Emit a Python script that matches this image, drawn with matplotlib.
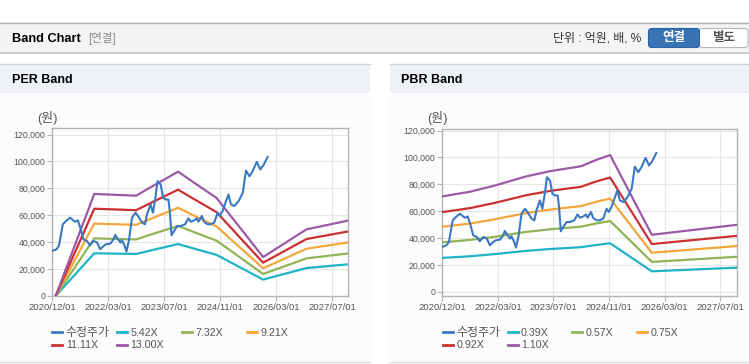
import matplotlib
matplotlib.use("Agg")
import matplotlib.pyplot as plt
from matplotlib.patches import Rectangle, FancyBboxPatch
from matplotlib.lines import Line2D
from matplotlib.ticker import FuncFormatter

plt.rcParams['font.family'] = ['Liberation Sans', 'Noto Sans CJK KR']

W, H = 749, 364

# x positions are in months along the chart axis (one tick every 16)
tick_pos = [0, 16, 32, 48, 64, 80]
tick_labels = ['2020/12/01', '2022/03/01', '2023/07/01', '2024/11/01', '2026/03/01', '2027/07/01']

# 수정주가 (adjusted price)
price_month = [0, 1.2, 1.9, 3.0, 4.1, 5.1, 6.0, 6.5, 7.3, 8.0,
               8.9, 9.9, 10.8, 11.8, 12.8, 13.7, 14.7, 15.4, 16.6, 17.5,
               18.0, 18.8, 19.5, 19.9, 20.7, 21.2, 21.9, 22.8, 23.8, 24.5,
               25.7, 26.5, 27.1, 28.1, 28.8, 29.5, 30.1, 31.0, 31.7, 32.4,
               33.2, 33.6, 34.1, 34.8, 35.8, 36.7, 38.0, 38.9, 39.6, 40.6,
               41.3, 41.8, 42.8, 43.4, 44.4, 45.3, 46.3, 47.3, 47.9, 48.7,
               49.7, 50.4, 51.1, 52.1, 53.3, 54.5, 55.4, 56.4, 57.3, 58.5,
               59.5, 60.5, 61.6]
price = [33400, 34600, 37100, 53200, 56100, 58100, 56100, 55100, 56100, 50700,
         42000, 40800, 37600, 40800, 39600, 34600, 37100, 38300, 38800, 42000,
         45300, 42000, 39600, 41300, 37100, 32900, 40800, 58100, 61800, 59400,
         54400, 53200, 60600, 68000, 61800, 73000, 85300, 82800, 73000, 71700,
         71700, 63100, 45000, 48200, 51900, 51900, 53200, 57600, 55100, 56100,
         57600, 55100, 59400, 55100, 53200, 53200, 54400, 61800, 59400, 63100,
         70500, 75400, 68000, 66800, 70500, 76700, 93200, 89000, 92700, 99700,
         94000, 97700, 103400]

# PER band lines
per_month = [1, 12, 24, 28, 36, 40, 47, 60.3, 72.7, 84.7]
per_542 = [0, 31600, 31100, 33600, 38500, 35500, 30400, 12000, 20600, 23400]
per_732 = [0, 42700, 41900, 45400, 52000, 47900, 41000, 16200, 27800, 31500]
per_921 = [0, 53700, 52800, 57100, 65500, 60300, 51600, 20400, 35000, 39700]
per_1111 = [0, 64800, 63700, 68900, 79000, 72800, 62200, 24600, 42200, 47900]
per_1300 = [0, 75800, 74500, 80600, 92400, 85200, 72800, 28800, 49400, 56000]
per_labels = ['5.42X', '7.32X', '9.21X', '11.11X', '13.00X']

# PBR band lines
pbr_month = [0, 8, 15, 24, 31, 40, 44, 48.3, 60.3, 84.7]
pbr_039 = [25200, 26400, 28000, 30400, 31800, 33200, 34700, 36100, 15200, 17900]
pbr_057 = [36800, 38600, 40900, 44500, 46500, 48500, 50700, 52700, 22200, 26000]
pbr_075 = [48400, 50800, 53900, 58500, 61200, 63800, 66800, 69400, 29000, 34000]
pbr_092 = [59300, 62300, 66100, 71800, 75100, 78200, 81900, 85100, 35500, 41600]
pbr_110 = [71000, 74500, 79000, 85800, 89800, 93500, 97900, 101800, 42400, 49800]
pbr_labels = ['0.39X', '0.57X', '0.75X', '0.92X', '1.10X']

price_color = '#3b78c4'
band_colors = ['#1fb3c6', '#8fb556', '#f4a83c', '#cc3131', '#9c5aa6']


def rect(fig, x0, y0, x1, y1, color, **kw):
    # pixel box (y from top) in figure inches, kept behind the axes
    fig.patches.append(Rectangle((x0 / 100, (H - y1) / 100), (x1 - x0) / 100, (y1 - y0) / 100,
                                 transform=fig.dpi_scale_trans, facecolor=color,
                                 edgecolor='none', zorder=-2, **kw))


def hline(fig, x0, x1, y, color, lw=1.0):
    fig.add_artist(Line2D([x0 / W, x1 / W], [1 - y / H, 1 - y / H], color=color, lw=lw,
                          transform=fig.transFigure, zorder=-1))


def text(fig, x, y, s, **kw):
    fig.text(x / W, 1 - y / H, s, va='center', **kw)


def draw_panel(fig, rect_px, month, bands, labels, xlim, ylim, legend_x0):
    l, t, r, b = rect_px
    ax = fig.add_axes([l / W, 1 - b / H, (r - l) / W, (b - t) / H])
    ax.set_facecolor('white')
    ax.plot(price_month, price, color=price_color, lw=1.5, zorder=4)
    for vals, c in zip(bands, band_colors):
        ax.plot(month, vals, color=c, lw=1.6, zorder=3)
    ax.set_xlim(*xlim)
    ax.set_ylim(*ylim)
    ax.set_xticks(tick_pos)
    ax.set_xticklabels(tick_labels)
    ax.set_yticks(range(0, 120001, 20000))
    ax.yaxis.set_major_formatter(FuncFormatter(lambda v, p: f'{int(v):,}'))
    ax.grid(True, color='#e6e6e6', lw=0.8, zorder=0)
    ax.set_axisbelow(True)
    for sp in ax.spines.values():
        sp.set_color('#b4b4b4')
        sp.set_linewidth(1.0)
    ax.tick_params(axis='both', colors='#b4b4b4', length=3.5, width=0.8, pad=1.5)
    ax.tick_params(axis='x', labelsize=6.8, labelcolor='#555555')
    ax.tick_params(axis='y', labelsize=6.3, labelcolor='#555555')

    # legend drawn by hand on a fixed grid
    names = ['수정주가'] + labels
    colors = [price_color] + band_colors
    for i, (n, c) in enumerate(zip(names, colors)):
        row, col = divmod(i, 4)
        x = legend_x0 + col * 64.8
        y = 332.3 + row * 12.3
        fig.add_artist(Line2D([x / W, (x + 10) / W], [1 - y / H, 1 - y / H], color=c, lw=2,
                              transform=fig.transFigure))
        size = 8.6 if i == 0 else 7.7
        text(fig, x + 13.5, y + 0.3, n, fontsize=size, color='#555555', ha='left')
    return ax


fig = plt.figure(figsize=(W / 100, H / 100), dpi=100)
fig.patch.set_facecolor('white')

# top header bar
rect(fig, 0, 22, W, 53, '#f4f4f4')
hline(fig, 0, W, 22.5, '#b4b4b4', 1.0)
hline(fig, 0, W, 53, '#c4c4c4', 1.2)
text(fig, 11.5, 38.5, 'Band Chart', fontsize=9.2, fontweight='bold', color='black')
text(fig, 88, 38.5, '[연결]', fontsize=8.3, color='#8a8a8a')
text(fig, 641.5, 38.5, '단위 : 억원, 배, %', fontsize=8.6, color='#333333', ha='right')
fig.patches.append(FancyBboxPatch((699 / 100, (H - 47.5) / 100), 49 / 100, 19 / 100,
                                  boxstyle='round,pad=0,rounding_size=0.03',
                                  transform=fig.dpi_scale_trans, facecolor='white',
                                  edgecolor='#b8b8b8', lw=0.8, zorder=1))
fig.patches.append(FancyBboxPatch((648.5 / 100, (H - 47.5) / 100), 51 / 100, 19 / 100,
                                  boxstyle='round,pad=0,rounding_size=0.03',
                                  transform=fig.dpi_scale_trans, facecolor='#3873b6',
                                  edgecolor='#2d64a3', lw=0.8, zorder=2))
text(fig, 674, 38.5, '연결', fontsize=9, fontweight='bold', color='white', ha='center')
text(fig, 723.5, 38.5, '별도', fontsize=9, fontweight='bold', color='#555555', ha='center')

# panel frames
for x0, x1 in [(0, 370), (390, W)]:
    rect(fig, x0, 64, x1, 361, '#fcfcfc')
    rect(fig, x0, 64, x1, 93, '#eef1f6')
    hline(fig, x0, x1, 64.3, '#d2d2d2', 1.0)
    hline(fig, x0, x1, 361.5, '#dddddd', 1.0)
text(fig, 11.5, 80, 'PER Band', fontsize=9, fontweight='bold', color='black')
text(fig, 401, 80, 'PBR Band', fontsize=9, fontweight='bold', color='black')

draw_panel(fig, (52.3, 128.3, 347.7, 295.7), per_month,
           [per_542, per_732, per_921, per_1111, per_1300], per_labels,
           (0, 84.5), (0, 124700), 52.3)
draw_panel(fig, (442.3, 129.3, 737.3, 295.7), pbr_month,
           [pbr_039, pbr_057, pbr_075, pbr_092, pbr_110], pbr_labels,
           (0, 84.9), (-2980, 121000), 442.7)

text(fig, 47.5, 118, '(원)', fontsize=9.3, color='#555555', ha='center')
text(fig, 437, 118, '(원)', fontsize=9.3, color='#555555', ha='center')

fig.savefig('out.png', dpi=100)
